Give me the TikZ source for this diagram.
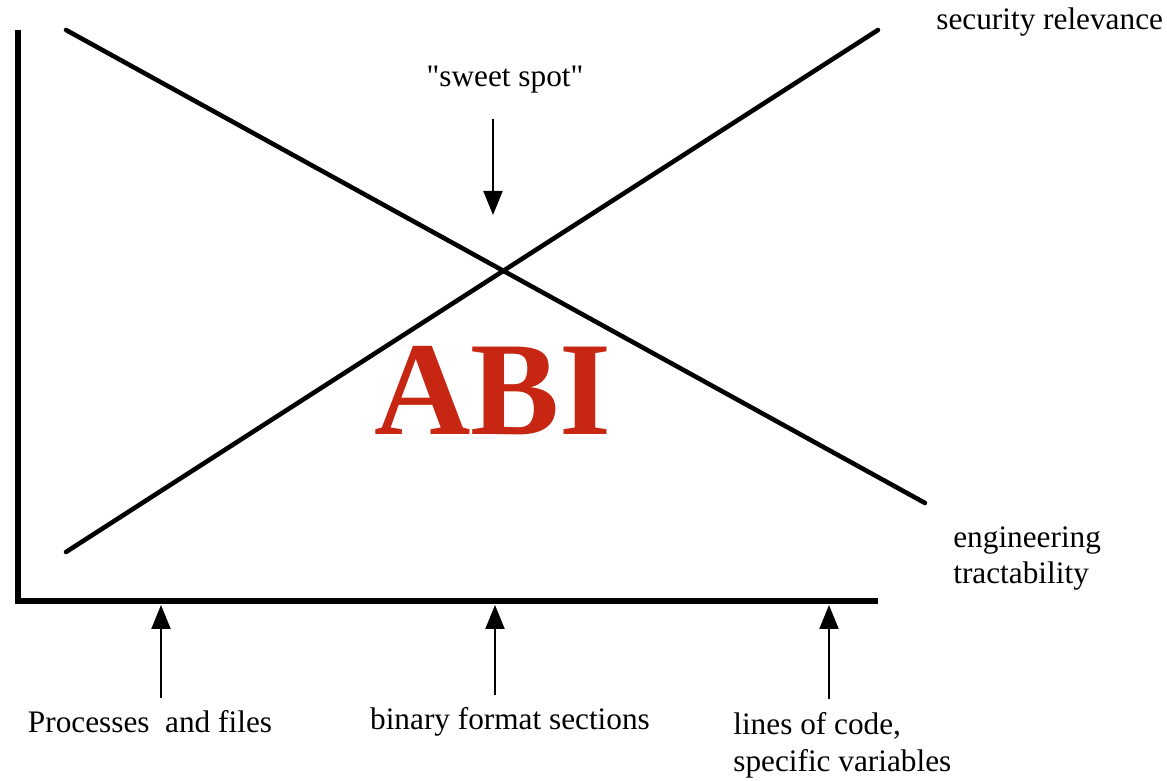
\documentclass[tikz,border=0pt]{standalone}
\usepackage{fontspec}
\setmainfont{Liberation Serif}
\usepackage{tikz}
\usetikzlibrary{arrows.meta,positioning}
\usepackage{xcolor}
\definecolor{abired}{RGB}{198,38,18}

\tikzset{
    axisline/.style={line width=3pt, line join=miter},
    trendline/.style={line width=2.6pt, line cap=round},
    pointer/.style={line width=1.2pt, -{Triangle[length=0.48cm,width=0.38cm]}},
    lbl/.style={font=\fontsize{17.8}{21}\selectfont, inner sep=0pt},
}

\begin{document}
\begin{tikzpicture}
    \useasboundingbox (0,0) rectangle (23.34,15.62);

    % axes
    \coordinate (ytop) at (0.36,15.02);
    \coordinate (origin) at (0.36,3.6);
    \coordinate (xend) at (17.56,3.6);
    \draw[axisline] (ytop) -- (origin) -- (xend);

    % the two trends
    \draw[trendline] (1.32,15.02) -- (18.5,5.56);
    \draw[trendline] (1.32,4.58) -- (17.56,15.02);

    \node[lbl, anchor=west] (security) at (18.72,15.18) {security relevance};
    \node[lbl, anchor=west, align=left] (tractab) at (19.06,4.45) {engineering\\tractability};

    % sweet spot
    \node[lbl] (sweet) at (10.1,14.02) {\textquotedbl sweet spot\textquotedbl};
    \coordinate (spot) at (9.86,11.32);
    \draw[pointer] (sweet.south -| spot) ++(0,-0.5) -- (spot);

    \node[text=abired, font=\fontsize{76}{80}\selectfont\bfseries, inner sep=0pt] (abi) at (9.86,7.8) {ABI};

    % granularity labels
    \node[lbl] (procs) at (3.0,1.18) {Processes\ \ and files};
    \node[lbl] (sections) at (10.2,1.18) {binary format sections};
    \node[lbl, anchor=west, align=left] (lines) at (14.66,0.72) {lines of code,\\specific variables};

    \coordinate (p1) at (3.22,3.52);
    \coordinate (p2) at (9.9,3.52);
    \coordinate (p3) at (16.58,3.52);
    \draw[pointer] (p1 |- procs.north) ++(0,0.25) -- (p1);
    \draw[pointer] (p2 |- sections.north) ++(0,0.25) -- (p2);
    \draw[pointer] (p3 |- lines.north) ++(0,0.25) -- (p3);
\end{tikzpicture}
\end{document}
